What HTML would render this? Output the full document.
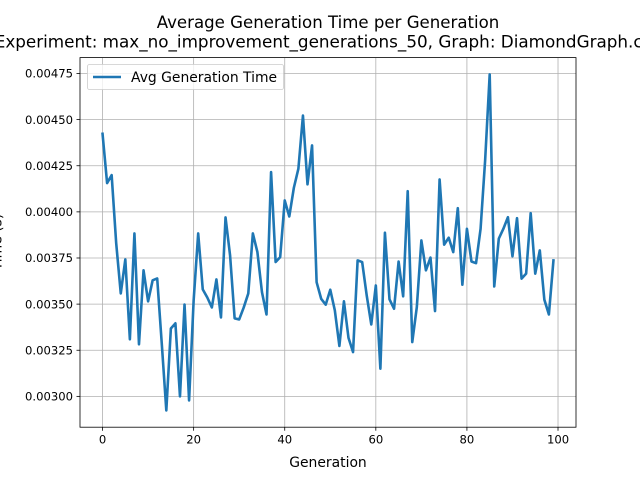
<!DOCTYPE html>
<html><head><meta charset="utf-8"><style>
body{margin:0;background:#fff}
svg{display:block;font-family:"DejaVu Sans","Liberation Sans",sans-serif}
</style></head><body>
<svg id="chart" width="640" height="480" viewBox="0 0 640 480">
<rect width="640" height="480" fill="#fff"/>
<text x="328" y="28" text-anchor="middle" font-size="16.6" fill="#000">Average Generation Time per Generation</text>
<text x="328" y="47.5" text-anchor="middle" font-size="16.8" fill="#000">Experiment: max_no_improvement_generations_50, Graph: DiamondGraph.csv</text>
<text transform="translate(1.5,242) rotate(-90)" text-anchor="middle" font-size="13.9">Time (s)</text>
<g id="grid"></g>
<g id="ticks"></g>
<path id="line" fill="none" stroke="#1f77b4" stroke-width="2.6" stroke-linejoin="round" stroke-linecap="square"/>
<rect x="80" y="57.6" width="496" height="369.6" fill="none" stroke="#000" stroke-width="0.8"/>
<text x="328" y="467" text-anchor="middle" font-size="13.9">Generation</text>
<g>
<rect x="87.5" y="64.5" width="196" height="25" rx="2" fill="#fff" fill-opacity="0.8" stroke="#ccc" stroke-width="0.8"/>
<line x1="93" y1="77" x2="121" y2="77" stroke="#1f77b4" stroke-width="2.6"/>
<text x="131" y="82" font-size="13.9">Avg Generation Time</text>
</g>
</svg>
<script>
const generations = Array.from({length:100},(_, i)=>i);
const avgTimes = [0.004423,0.004156,0.004199,0.003829,0.003558,0.003742,0.003309,0.003883,0.003282,0.003683,
0.003515,0.003629,0.003639,0.003287,0.002924,0.003368,0.003396,0.003000,0.003498,0.002978,
0.00352,0.003883,0.00358,0.003536,0.003482,0.003634,0.003428,0.00397,0.003764,0.003423,
0.003417,0.003482,0.003558,0.003883,0.003782,0.003565,0.003444,0.004216,0.003728,0.003755,
0.004062,0.003975,0.00413,0.004234,0.004522,0.004149,0.00436,0.003619,0.003529,0.003497,
0.003578,0.003466,0.003273,0.003515,0.003317,0.00324,0.003737,0.003728,0.003547,0.00339,
0.003601,0.00315,0.003887,0.003526,0.003475,0.003731,0.003542,0.004112,0.003294,0.003484,
0.003845,0.003683,0.003752,0.003462,0.004176,0.003822,0.00386,0.003782,0.00402,0.003605,
0.003908,0.003731,0.003722,0.003908,0.004279,0.004745,0.003596,0.003855,0.003908,0.003971,
0.003759,0.003966,0.003638,0.003665,0.003993,0.003665,0.003791,0.003524,0.003444,0.003737];
const xTicks = [0,20,40,60,80,100];
const yTicks = [0.003,0.00325,0.0035,0.00375,0.004,0.00425,0.0045,0.00475];
const yTickLabels = ["0.00300","0.00325","0.00350","0.00375","0.00400","0.00425","0.00450","0.00475"];

const L=80,R=576,T=57.6,B=427.2;
const xmin0=Math.min(...generations),xmax0=Math.max(...generations),xp=(xmax0-xmin0)*0.05;
const ymin0=Math.min(...avgTimes),ymax0=Math.max(...avgTimes),yp=(ymax0-ymin0)*0.05;
const xS=v=>L+(v-(xmin0-xp))/((xmax0+xp)-(xmin0-xp))*(R-L);
const yS=v=>B-(v-(ymin0-yp))/((ymax0+yp)-(ymin0-yp))*(B-T);
const NS="http://www.w3.org/2000/svg";
const grid=document.getElementById('grid'),ticks=document.getElementById('ticks');
function mk(tag,attrs,parent){const e=document.createElementNS(NS,tag);for(const k in attrs)e.setAttribute(k,attrs[k]);parent.appendChild(e);return e;}
xTicks.forEach(t=>{const x=xS(t);
 const g=mk('line',{x1:x,x2:x,y1:T,y2:B,stroke:'#b0b0b0','stroke-width':0.8},grid);
 
 
 mk('line',{x1:x,x2:x,y1:B,y2:B+3.5,stroke:'#000','stroke-width':0.8},ticks);
 const tx=mk('text',{x:x,y:B+16.5,'text-anchor':'middle','font-size':11.6},ticks);tx.textContent=t;
 
 
});
yTicks.forEach((t,i)=>{const y=yS(t);
 const g=mk('line',{x1:L,x2:R,y1:y,y2:y,stroke:'#b0b0b0','stroke-width':0.8},grid);
 
 
 mk('line',{x1:L-3.5,x2:L,y1:y,y2:y,stroke:'#000','stroke-width':0.8},ticks);
 const tx=mk('text',{x:L-7,y:y+4.2,'text-anchor':'end','font-size':11.6},ticks);tx.textContent=yTickLabels[i];
 
 
});
document.getElementById('line').setAttribute('d',avgTimes.map((v,i)=>(i?'L':'M')+xS(generations[i]).toFixed(2)+' '+yS(v).toFixed(2)).join(' '));
</script>
</body></html>
